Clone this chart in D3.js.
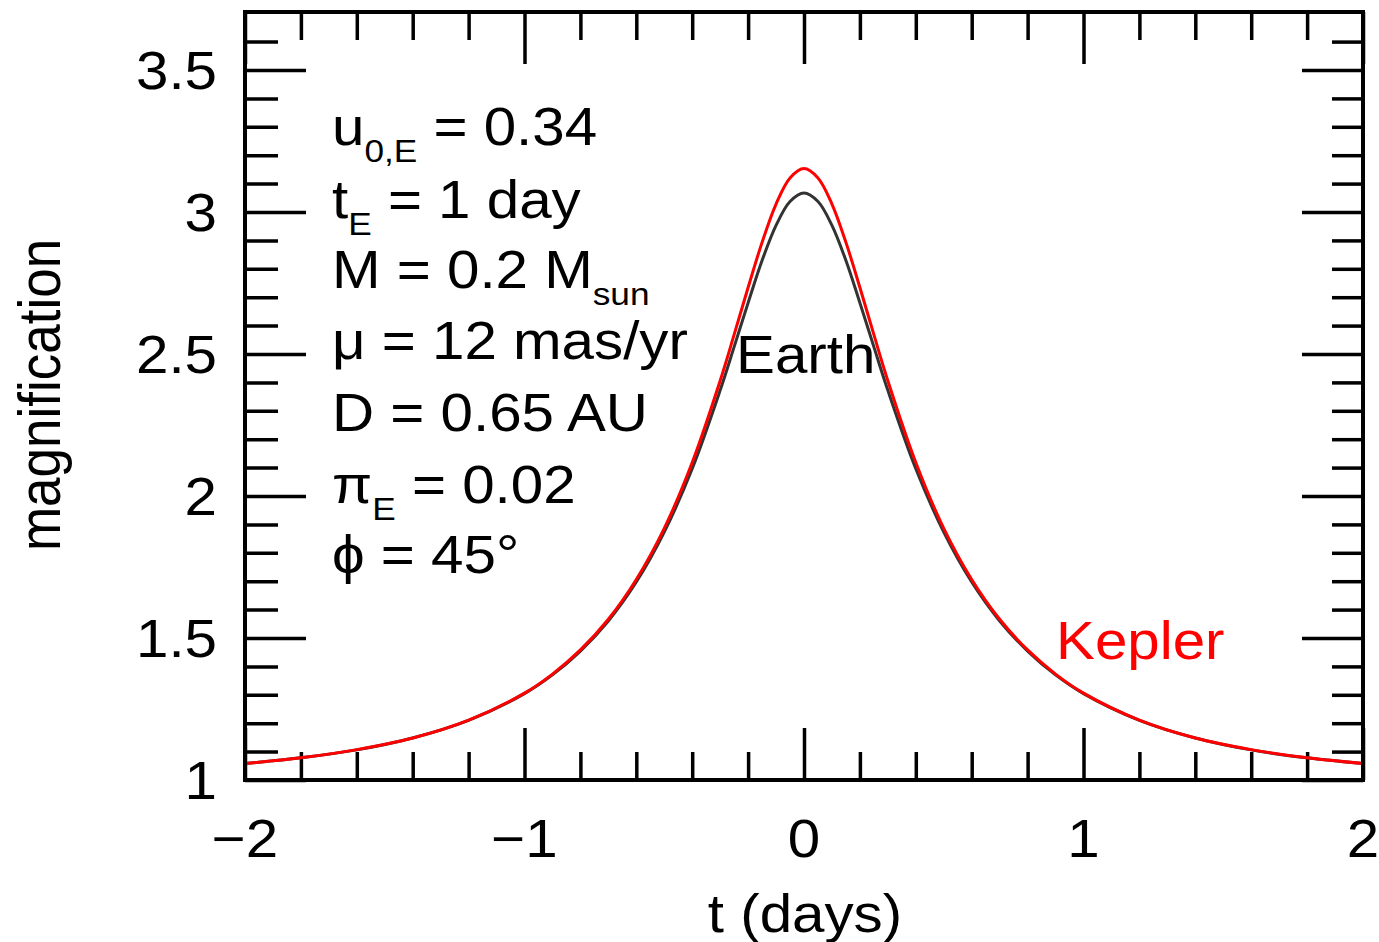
<!DOCTYPE html>
<html>
<head>
<meta charset="utf-8">
<script src="https://cdn.jsdelivr.net/npm/d3@7"></script>
<style>
  body { margin: 0; background: #fff; }
  text { font-family: "Liberation Sans", Arial, sans-serif; }
</style>
</head>
<body>
<div id="chart"></div>
<script>
// data
const tDays = [-2, -1.8, -1.6, -1.4, -1.2, -1, -0.9, -0.8, -0.7, -0.6, -0.5, -0.4, -0.3, -0.25, -0.2, -0.15, -0.1, -0.05,
  0, 0.05, 0.1, 0.15, 0.2, 0.25, 0.3, 0.4, 0.5, 0.6, 0.7, 0.8, 0.9, 1, 1.2, 1.4, 1.6, 1.8, 2];
const earthMag = [1.058, 1.078, 1.106, 1.148, 1.210, 1.304, 1.370, 1.454, 1.560, 1.697, 1.873, 2.096, 2.372, 2.525, 2.680, 2.829, 2.953, 3.037,
  3.067, 3.037, 2.953, 2.829, 2.680, 2.525, 2.372, 2.096, 1.873, 1.697, 1.560, 1.454, 1.370, 1.304, 1.210, 1.148, 1.106, 1.078, 1.058];
const keplerMag = [1.058, 1.078, 1.107, 1.148, 1.211, 1.306, 1.373, 1.458, 1.566, 1.706, 1.886, 2.118, 2.406, 2.568, 2.734, 2.893, 3.028, 3.120,
  3.153, 3.120, 3.028, 2.893, 2.734, 2.568, 2.406, 2.118, 1.886, 1.706, 1.566, 1.458, 1.373, 1.306, 1.211, 1.148, 1.107, 1.078, 1.058];

const xMajor = [-2, -1, 0, 1, 2];
const xLabels = ["\u22122", "\u22121", "0", "1", "2"];
const xMinor = [-1.8, -1.6, -1.4, -1.2, -0.8, -0.6, -0.4, -0.2, 0.2, 0.4, 0.6, 0.8, 1.2, 1.4, 1.6, 1.8];
const yMajor = [1, 1.5, 2, 2.5, 3, 3.5];
const yLabels = ["1", "1.5", "2", "2.5", "3", "3.5"];
const yMinor = [1.1, 1.2, 1.3, 1.4, 1.6, 1.7, 1.8, 1.9, 2.1, 2.2, 2.3, 2.4, 2.6, 2.7, 2.8, 2.9, 3.1, 3.2, 3.3, 3.4, 3.6];

// constants
const W = 1379, H = 942;
const plot = { left: 245, right: 1363, top: 12, bottom: 780 };
const sx = 1.1; // text is a bit wide in the original
const fs = 53;

const svg = d3.select("#chart").append("svg")
  .attr("width", W).attr("height", H);

const x = d3.scaleLinear().domain([-2, 2]).range([plot.left, plot.right]);
const y = d3.scaleLinear().domain([1, 1 + (plot.bottom - plot.top) / 284]).range([plot.bottom, plot.top]);

function ticks(axis, vals, size, pos) {
  svg.append("g")
    .attr("transform", pos)
    .call(axis.tickValues(vals).tickSize(size).tickFormat(""))
    .call(g => g.select(".domain").remove())
    .call(g => g.selectAll("line").attr("stroke", "#000").attr("stroke-width", 3.5));
}

ticks(d3.axisBottom(x), xMajor, -52, `translate(0,${plot.bottom})`);
ticks(d3.axisBottom(x), xMinor, -28, `translate(0,${plot.bottom})`);
ticks(d3.axisTop(x), xMajor, -52, `translate(0,${plot.top})`);
ticks(d3.axisTop(x), xMinor, -28, `translate(0,${plot.top})`);
ticks(d3.axisLeft(y), yMajor, -61, `translate(${plot.left},0)`);
ticks(d3.axisLeft(y), yMinor, -33, `translate(${plot.left},0)`);
ticks(d3.axisRight(y), yMajor, -61, `translate(${plot.right},0)`);
ticks(d3.axisRight(y), yMinor, -31, `translate(${plot.right},0)`);

// curves
const line = (vals) => d3.line()
  .x((d, i) => x(tDays[i]))
  .y(d => y(d))
  .curve(d3.curveCatmullRom)(vals);

svg.append("path").attr("d", line(earthMag))
  .attr("fill", "none").attr("stroke", "#333").attr("stroke-width", 3);
svg.append("path").attr("d", line(keplerMag))
  .attr("fill", "none").attr("stroke", "#ff0000").attr("stroke-width", 3);

// frame
svg.append("rect")
  .attr("x", plot.left).attr("y", plot.top)
  .attr("width", plot.right - plot.left).attr("height", plot.bottom - plot.top)
  .attr("fill", "none").attr("stroke", "#000").attr("stroke-width", 4);

function label(tx, ty, anchor, size, color, extra) {
  return svg.append("text")
    .attr("transform", `translate(${tx},${ty}) scale(${sx},1)` + (extra || ""))
    .attr("text-anchor", anchor)
    .attr("font-size", size)
    .attr("fill", color || "#000");
}

xMajor.forEach((v, i) => label(x(v), 857, "middle", fs).text(xLabels[i]));
yMajor.forEach((v, i) => label(217, y(v) + 19, "end", fs).text(yLabels[i]));

label(805, 932, "middle", fs).text("t (days)");
label(60, 395, "middle", fs, "#000", " rotate(-90)").text("magnification");

// parameter block
const sub = 32;
function param(ty, parts) {
  const t = label(332, ty, "start", fs);
  parts.forEach(p => {
    const s = t.append("tspan").text(p[0]);
    if (p[1] === "sub") s.attr("font-size", sub).attr("dy", 17);
    if (p[1] === "up") s.attr("dy", -17);
  });
}
param(145, [["u"], ["0,E", "sub"], [" = 0.34", "up"]]);
param(218, [["t"], ["E", "sub"], [" = 1 day", "up"]]);
param(288, [["M = 0.2 M"], ["sun", "sub"]]);
param(359, [["\u03bc = 12 mas/yr"]]);
param(431, [["D = 0.65 AU"]]);
param(503, [["\u03c0"], ["E", "sub"], [" = 0.02", "up"]]);
param(573, [["\u03d5 = 45\u00b0"]]);

label(736, 373, "start", fs).text("Earth");
label(1056, 659, "start", fs, "#ff0000").text("Kepler");
</script>
</body>
</html>
